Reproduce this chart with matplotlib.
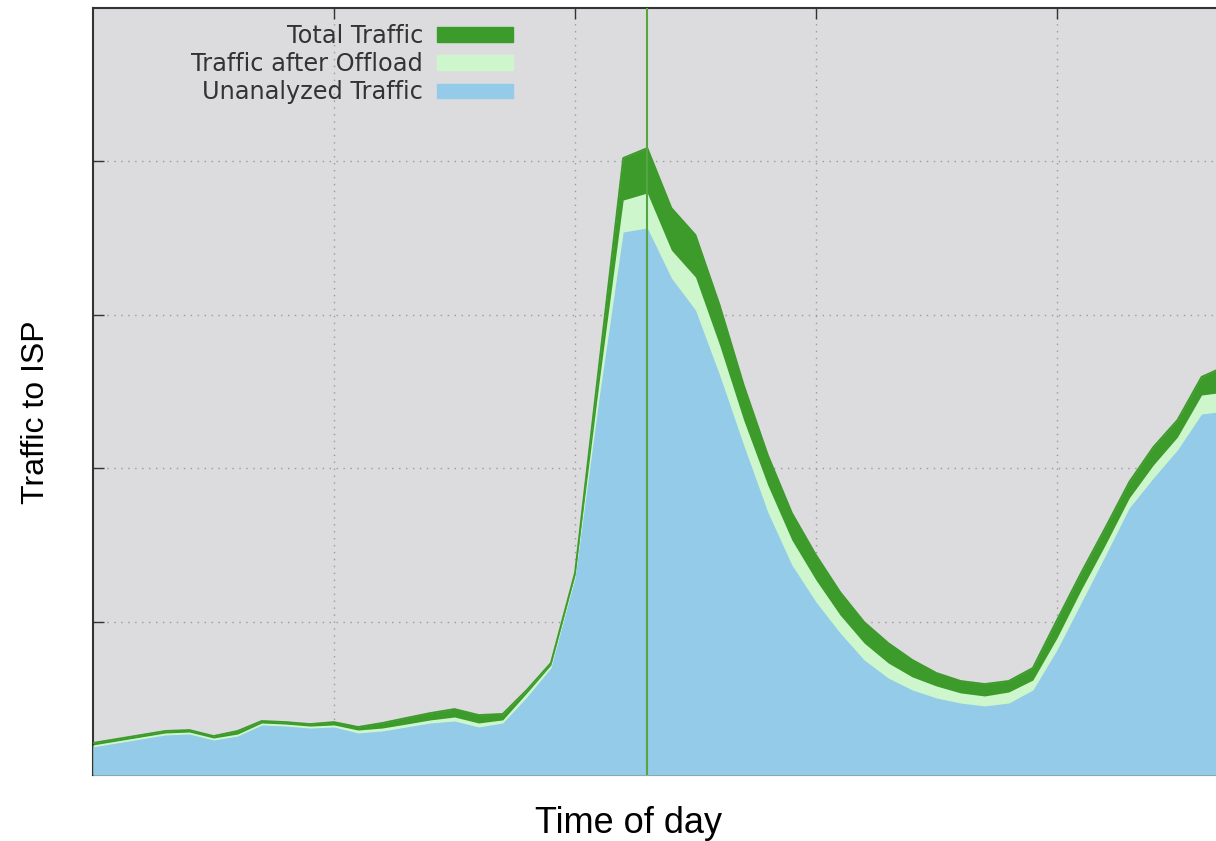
import numpy as np
import matplotlib.pyplot as plt
from matplotlib.patches import Patch

# time slots along the day (one sample per slot)
time_slots = np.arange(48)

# traffic levels (arbitrary units, 0..5)
total_traffic = [0.209, 0.235, 0.261, 0.287, 0.293, 0.254, 0.287, 0.352, 0.345, 0.332,
                 0.345, 0.313, 0.339, 0.372, 0.404, 0.430, 0.391, 0.398, 0.554, 0.730,
                 1.317, 2.673, 4.022, 4.087, 3.696, 3.520, 3.064, 2.542, 2.086, 1.708,
                 1.434, 1.193, 0.997, 0.860, 0.750, 0.665, 0.613, 0.593, 0.613, 0.698,
                 1.010, 1.317, 1.610, 1.910, 2.138, 2.314, 2.595, 2.666]
after_offload = [0.196, 0.222, 0.248, 0.274, 0.280, 0.241, 0.267, 0.339, 0.332, 0.319,
                 0.326, 0.293, 0.306, 0.332, 0.359, 0.378, 0.339, 0.359, 0.535, 0.717,
                 1.304, 2.562, 3.748, 3.794, 3.422, 3.246, 2.803, 2.314, 1.890, 1.532,
                 1.271, 1.043, 0.860, 0.730, 0.639, 0.580, 0.535, 0.515, 0.541, 0.619,
                 0.893, 1.206, 1.499, 1.806, 2.021, 2.203, 2.477, 2.497]
unanalyzed = [0.183, 0.209, 0.235, 0.261, 0.267, 0.228, 0.254, 0.326, 0.319, 0.306,
              0.313, 0.274, 0.287, 0.313, 0.339, 0.352, 0.313, 0.339, 0.508, 0.698,
              1.284, 2.458, 3.540, 3.566, 3.240, 3.031, 2.608, 2.151, 1.714, 1.369,
              1.128, 0.926, 0.750, 0.632, 0.554, 0.502, 0.469, 0.450, 0.469, 0.554,
              0.815, 1.121, 1.428, 1.741, 1.936, 2.119, 2.353, 2.373]

marker_slot = 23
grid_x = [10, 20, 30, 40]
grid_y = [1, 2, 3, 4]

dark_green = '#3d9b2b'
light_green = '#cdf6cd'
sky_blue = '#93cbe8'

fig = plt.figure(figsize=(12.16, 8.41), dpi=100)
ax = fig.add_axes([0.0765, 0.0785, 0.9235, 0.912])
ax.set_facecolor('#dcdcde')

ax.fill_between(time_slots, 0, total_traffic, color=dark_green, lw=0, zorder=2)
ax.fill_between(time_slots, 0, after_offload, color=light_green, lw=0, zorder=3)
ax.fill_between(time_slots, 0, unanalyzed, color=sky_blue, lw=0, zorder=4)
ax.plot(time_slots, total_traffic, color=dark_green, lw=1.3, zorder=5)
ax.axvline(marker_slot, color='#55a543', lw=1.5, zorder=6)

ax.set_xlim(0, 46.6)
ax.set_ylim(0, 5)
ax.set_xticks(grid_x)
ax.set_yticks(grid_y)
ax.grid(True, color='#9a9a9a', linestyle=(0, (1, 4)), lw=1.0)
ax.set_axisbelow(True)
ax.tick_params(which='both', direction='in', length=8, width=1,
               top=True, bottom=False, left=True, right=False,
               labelbottom=False, labelleft=False, color='#333333')
for side in ['left', 'top', 'bottom']:
    ax.spines[side].set_color('#333333')
    ax.spines[side].set_linewidth(1.5)
ax.spines['right'].set_visible(False)

ax.set_xlabel('Time of day', fontsize=26, family='Liberation Sans', labelpad=22)
ax.set_ylabel('Traffic to ISP', fontsize=23, family='Liberation Sans', labelpad=30)
ax.xaxis.label.set_x(0.477)
ax.yaxis.label.set_y(0.473)

handles = [Patch(color=dark_green), Patch(color=light_green), Patch(color=sky_blue)]
labels = ['Total Traffic', 'Traffic after Offload', 'Unanalyzed Traffic']
leg = ax.legend(handles, labels, loc='upper right', bbox_to_anchor=(0.374, 0.979),
                frameon=False, markerfirst=False, fontsize=17.3,
                handlelength=3.15, handleheight=0.55, labelspacing=0.17,
                handletextpad=0.6, borderaxespad=0, borderpad=0)
for t in leg.get_texts():
    t.set_color('#333333')

fig.savefig('out.png', dpi=100)
